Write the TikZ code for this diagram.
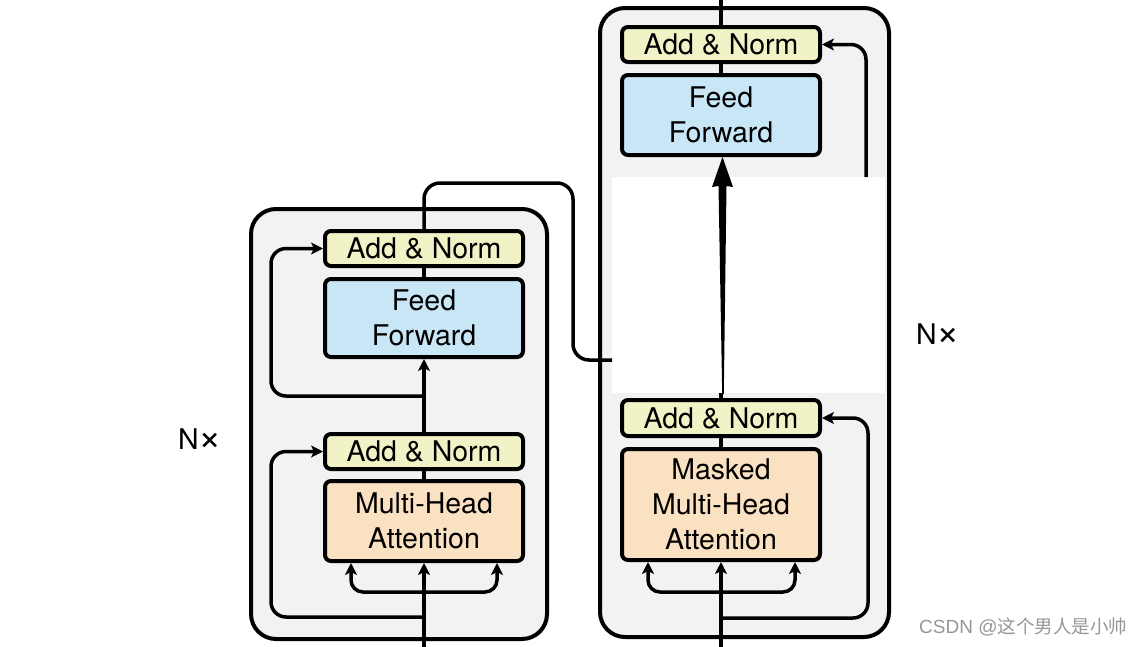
\documentclass[tikz,border=0pt]{standalone}
\usepackage{fontspec}
\setmainfont{TeX Gyre Heros}
\newfontfamily\cjk{Noto Sans CJK SC}
\newfontfamily\wmlatin{Liberation Sans}
\usetikzlibrary{arrows.meta,calc}
\definecolor{bg}{RGB}{242,242,242}
\definecolor{addc}{RGB}{241,243,198}
\definecolor{ffc}{RGB}{200,230,245}
\definecolor{attc}{RGB}{250,225,194}
\definecolor{wmc}{RGB}{150,150,150}
\begin{document}
\begin{tikzpicture}[x=1pt,y=-1pt,
 blk/.style={draw=black, line width=4pt, rounded corners=6pt, minimum width=198pt, align=center, inner sep=0pt, font=\fontsize{28.5}{35}\selectfont},
 addn/.style={blk, fill=addc, minimum height=35pt},
 ffn/.style={blk, fill=ffc},
 att/.style={blk, fill=attc},
 outerbox/.style={draw=black, fill=bg, line width=4pt, rounded corners=25pt},
 conn/.style={line width=3.5pt, draw=black},
 arr/.style={conn, -{Stealth[length=12pt,width=12pt,inset=3pt]}},
 lbl/.style={font=\fontsize{28.5}{34}\selectfont, inner sep=0pt}
]
\fill[white] (0,0) rectangle (1144,646);
\useasboundingbox (0,0) rectangle (1144,646);

% outer boxes
\draw[outerbox] (251,209) rectangle (547,639);
\draw[outerbox] (600,8) rectangle (889,637);
\fill[white] (612,177) rectangle (885,393);

% encoder nodes
\node[addn] (lan2) at (424,248.5) {Add \& Norm};
\node[ffn, minimum height=78pt] (lff) at (424,318) {Feed\\Forward};
\node[addn] (lan1) at (424,451.5) {Add \& Norm};
\node[att, minimum height=80pt] (lmha) at (424,521) {Multi-Head\\Attention};

% decoder nodes
\node[addn] (ran2) at (721,44.5) {Add \& Norm};
\node[ffn, minimum height=80pt] (rff) at (721,115) {Feed\\Forward};
\node[addn, minimum height=36pt] (ran1) at (721,418) {Add \& Norm};
\node[att, minimum height=111pt] (rmmha) at (721,504.5) {Masked\\Multi-Head\\Attention};

% labels
\node[lbl] (nl) at (200,440) {N\raisebox{-1pt}{\fontsize{40}{40}\selectfont ×}};
\node[lbl] (nr) at (938,335) {N\raisebox{-1pt}{\fontsize{40}{40}\selectfont ×}};
\node[text=wmc, inner sep=0pt, anchor=west] (wm) at (919,627) {\fontsize{19}{20}\selectfont\wmlatin CSDN @\cjk\fontsize{18.5}{20}\selectfont 这个男人是小帅};

% coordinates
\coordinate (lin) at (424,650);
\coordinate (lbr) at (424,592);
\coordinate (lr1) at (424,617);
\coordinate (lr2) at (424,396);
\coordinate (xcut) at (612,360);
\coordinate (rin) at (721,650);
\coordinate (rbr) at (721,592);
\coordinate (rr1) at (721,618);
\coordinate (rr2) at (866,177);
\coordinate (rcutb) at (721,393);
\coordinate (rtop) at (721,-4);

% encoder connectors
\draw[arr] (lin) -- (lmha.south);
\draw[arr, rounded corners=12pt] (lbr) -| ([xshift=-73pt]lmha.south);
\draw[arr, rounded corners=12pt] (lbr) -| ([xshift=73pt]lmha.south);
\draw[arr, rounded corners=15pt] (lr1) -| ([xshift=-52pt]lan1.west) -- (lan1.west);
\draw[conn] (lmha.north) -- (lan1.south);
\draw[arr] (lan1.north) -- (lff.south);
\draw[arr, rounded corners=15pt] (lr2) -| ([xshift=-52pt]lan2.west) -- (lan2.west);
\draw[conn] (lff.north) -- (lan2.south);
\draw[conn, rounded corners=16pt] (lan2.north) -- (424,183) -- (573,183) -- (573,360) -- (xcut);

% decoder connectors
\draw[arr] (rin) -- (rmmha.south);
\draw[arr, rounded corners=12pt] (rbr) -| ([xshift=-73pt]rmmha.south);
\draw[arr, rounded corners=12pt] (rbr) -| ([xshift=74pt]rmmha.south);
\draw[arr, rounded corners=15pt] (rr1) -| ([xshift=46pt]ran1.east) -- (ran1.east);
\draw[conn] (rmmha.north) -- (ran1.south);
\draw[conn] (ran1.north) -- (rcutb);
\fill[shift={(rff.south)}] (1.5,0) -- (12,30) -- (5.5,29) -- (2.8,237) -- (1.2,237) -- (-2.5,29) -- (-9,30) -- cycle;
\draw[conn] (rff.north) -- (ran2.south);
\draw[conn] (ran2.north) -- (rtop);
\draw[arr, rounded corners=15pt] (rr2) |- (ran2.east);
\end{tikzpicture}
\end{document}
